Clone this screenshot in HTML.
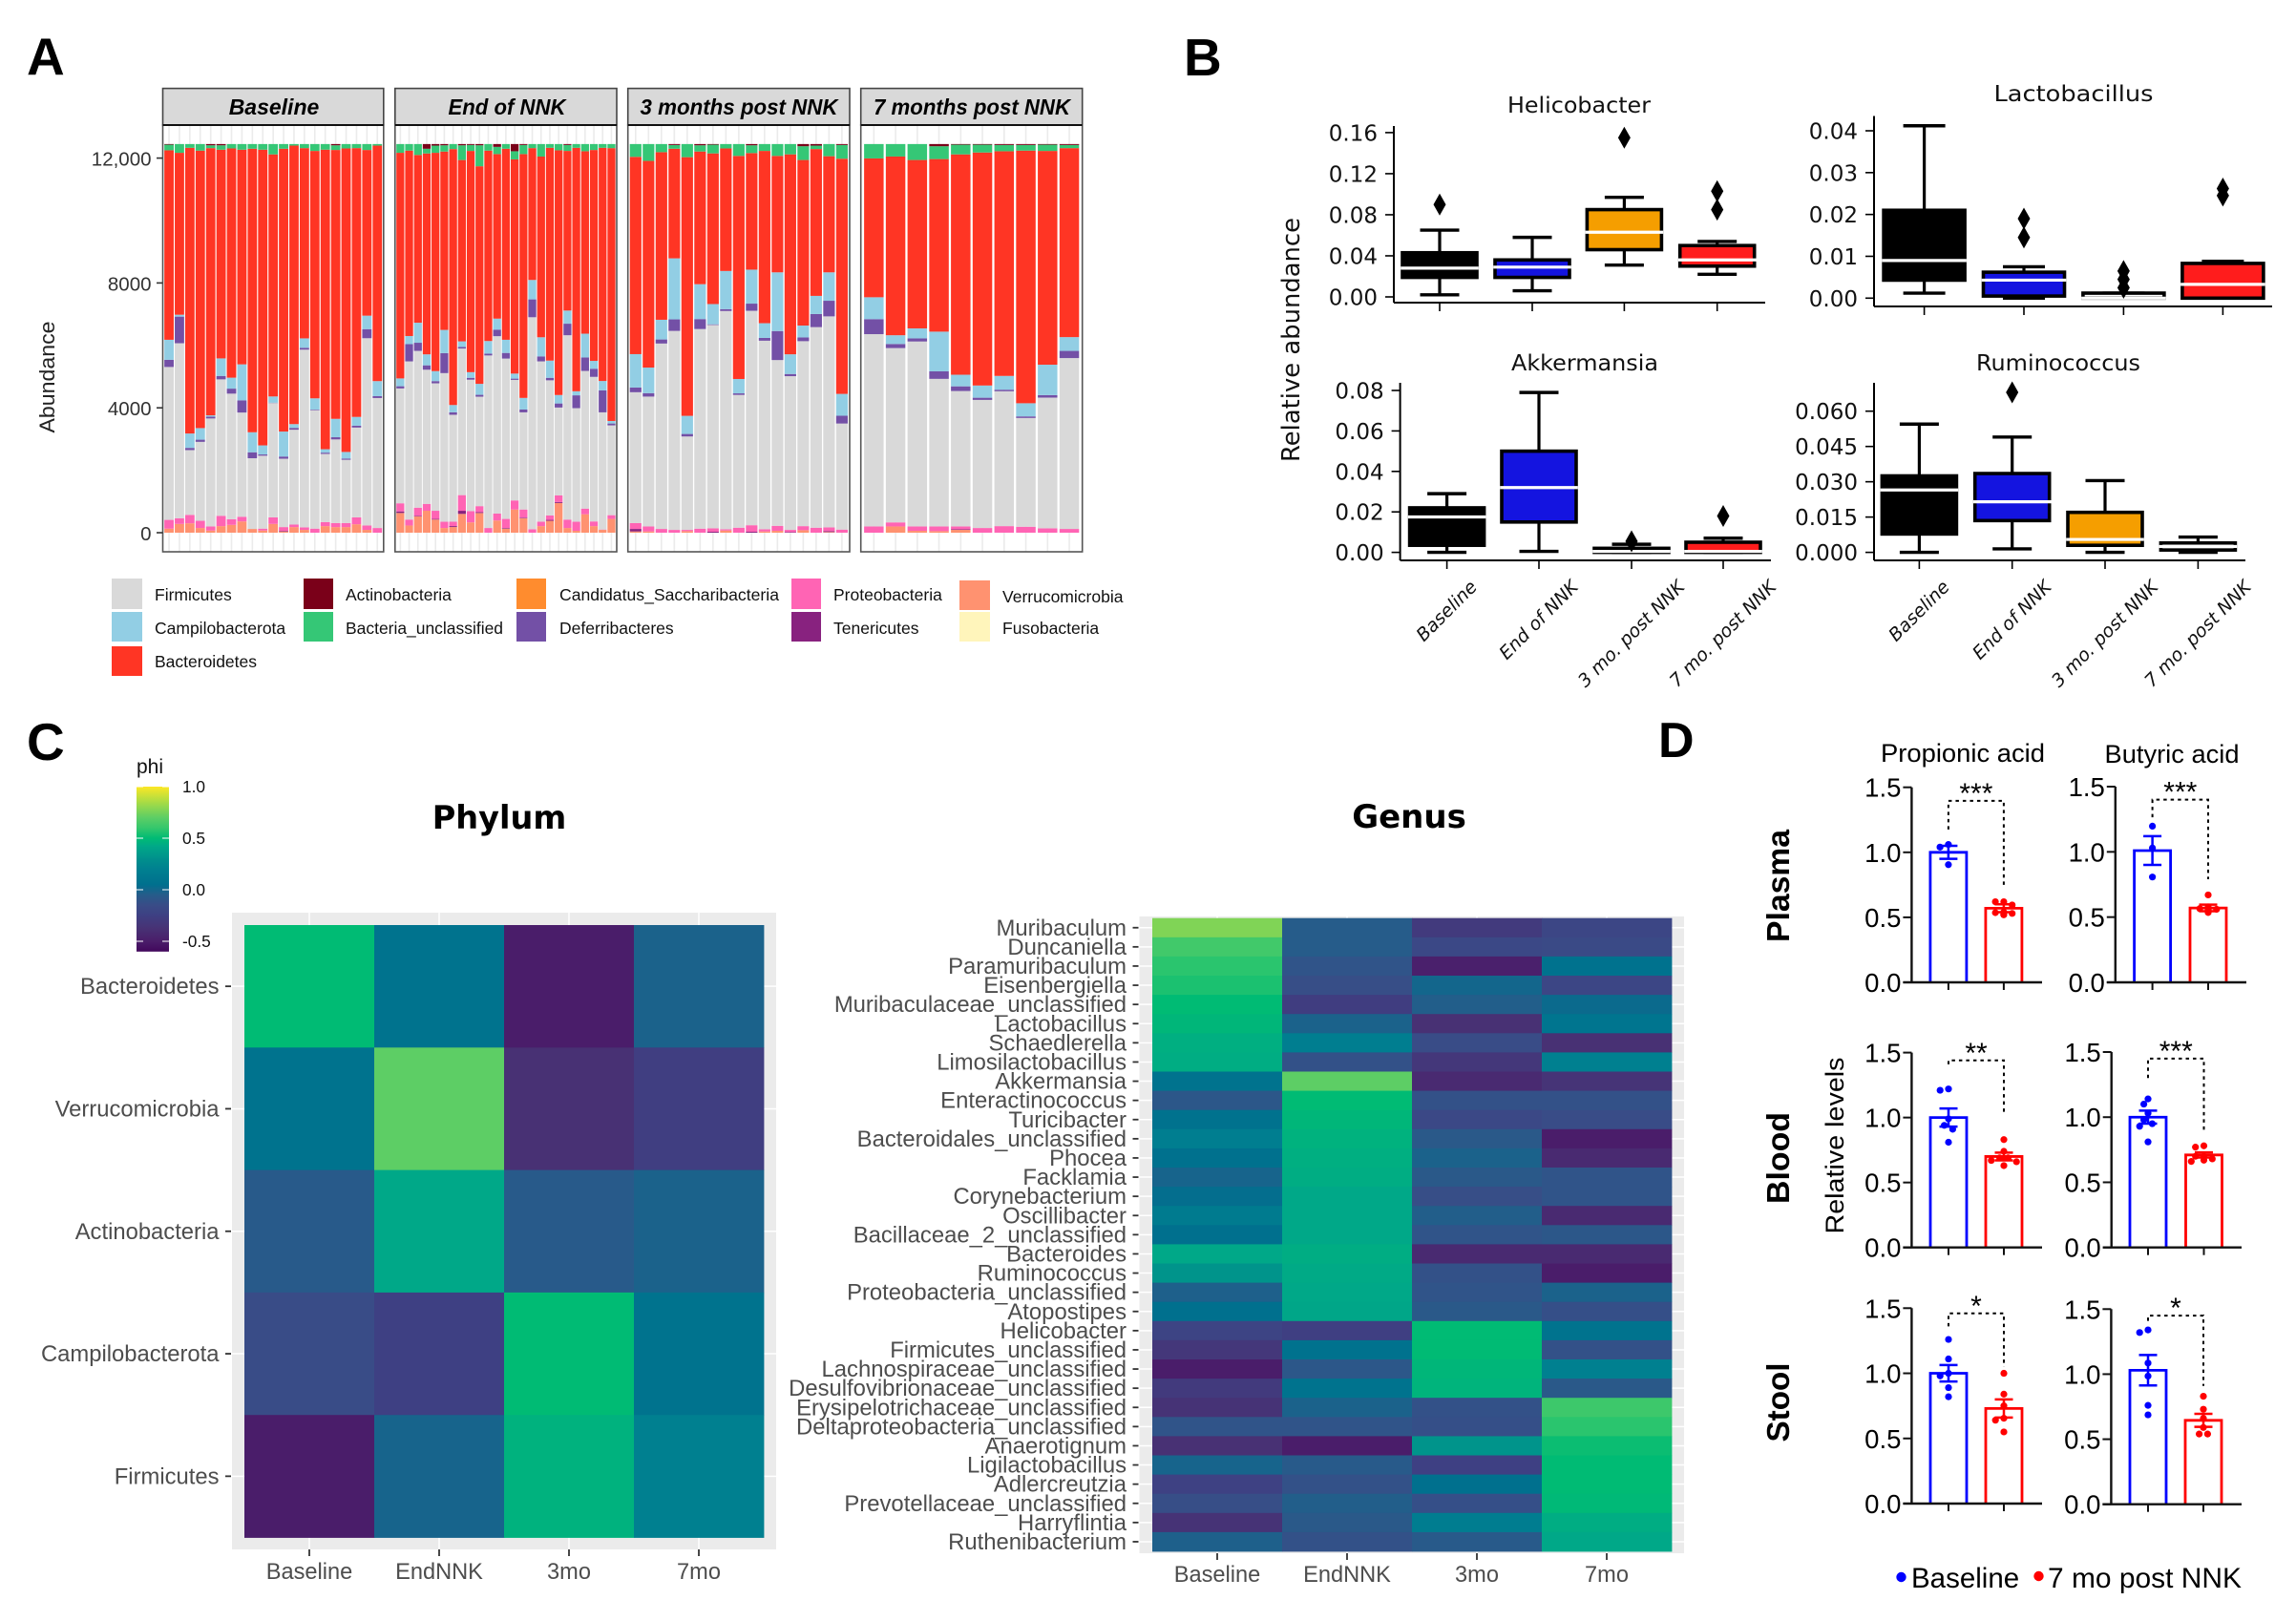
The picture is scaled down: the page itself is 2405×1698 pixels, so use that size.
<!DOCTYPE html>
<html lang="en">
<head>
<meta charset="utf-8">
<title>Microbiome figure</title>
<style>
html,body{margin:0;padding:0;background:#fff;}
svg{display:block;}
text{font-family:"Liberation Sans",sans-serif;}
.dj,.dj text{font-family:"DejaVu Sans",sans-serif;}
.lg{font-size:17.5px;fill:#111;}
</style>
</head>
<body>
<svg id="figure" xmlns="http://www.w3.org/2000/svg" width="2405" height="1698" viewBox="0 0 2405 1698">
<rect x="0" y="0" width="2405" height="1698" fill="#ffffff"/>

<text x="28" y="78" font-size="55" font-weight="bold" fill="#000">A</text>
<text x="1240" y="79" font-size="55" font-weight="bold" fill="#000">B</text>
<text x="28" y="796" font-size="55" font-weight="bold" fill="#000">C</text>
<text x="1746" y="797" font-size="52" font-weight="bold" fill="#000" transform="translate(-9,-4)">D</text>

<!-- Panel A -->
<g id="panelA">
  <text transform="translate(57,395) rotate(-90)" text-anchor="middle" font-size="22" fill="#222" textLength="117" lengthAdjust="spacingAndGlyphs">Abundance</text>
  <g id="facetsA"></g>
  <text x="287" y="120" text-anchor="middle" font-size="23" font-weight="bold" font-style="italic" fill="#000">Baseline</text>
  <text x="531" y="120" text-anchor="middle" font-size="23" font-weight="bold" font-style="italic" fill="#000" textLength="123" lengthAdjust="spacingAndGlyphs">End of NNK</text>
  <text x="774" y="120" text-anchor="middle" font-size="23" font-weight="bold" font-style="italic" fill="#000" textLength="207" lengthAdjust="spacingAndGlyphs">3 months post NNK</text>
  <text x="1018" y="120" text-anchor="middle" font-size="23" font-weight="bold" font-style="italic" fill="#000" textLength="206" lengthAdjust="spacingAndGlyphs">7 months post NNK</text>
  <g id="legendA">
    <rect x="117" y="606" width="32" height="32" fill="#D9D9D9"/>
    <text class="lg" x="162" y="629">Firmicutes</text>
    <rect x="117" y="641" width="32" height="31" fill="#92CEE4"/>
    <text class="lg" x="162" y="664">Campilobacterota</text>
    <rect x="117" y="677" width="32" height="31" fill="#FF3524"/>
    <text class="lg" x="162" y="699">Bacteroidetes</text>
    <rect x="318" y="606" width="31" height="32" fill="#7A0019"/>
    <text class="lg" x="362" y="629">Actinobacteria</text>
    <rect x="318" y="641" width="31" height="31" fill="#35C776"/>
    <text class="lg" x="362" y="664" textLength="165" lengthAdjust="spacingAndGlyphs">Bacteria_unclassified</text>
    <rect x="541" y="606" width="31" height="32" fill="#FF8C2E"/>
    <text class="lg" x="586" y="629" textLength="230" lengthAdjust="spacingAndGlyphs">Candidatus_Saccharibacteria</text>
    <rect x="541" y="641" width="31" height="31" fill="#7350A6"/>
    <text class="lg" x="586" y="664">Deferribacteres</text>
    <rect x="829" y="606" width="31" height="32" fill="#FF64B4"/>
    <text class="lg" x="873" y="629">Proteobacteria</text>
    <rect x="829" y="641" width="31" height="31" fill="#88227F"/>
    <text class="lg" x="873" y="664">Tenericutes</text>
    <rect x="1005" y="608" width="32" height="31" fill="#FF9270"/>
    <text class="lg" x="1050" y="631">Verrucomicrobia</text>
    <rect x="1005" y="641" width="32" height="31" fill="#FFF5BB"/>
    <text class="lg" x="1050" y="664">Fusobacteria</text>
  </g>
</g>

<!-- Panel B -->
<g id="panelB" class="dj">
  <text transform="translate(1361,356) rotate(-90)" text-anchor="middle" font-size="26" fill="#111" textLength="256" lengthAdjust="spacingAndGlyphs">Relative abundance</text>
  <text x="1654" y="118" text-anchor="middle" font-size="23" fill="#111" textLength="150" lengthAdjust="spacingAndGlyphs">Helicobacter</text>
  <text x="2172" y="106" text-anchor="middle" font-size="23" fill="#111" textLength="167" lengthAdjust="spacingAndGlyphs">Lactobacillus</text>
  <text x="1660" y="388" text-anchor="middle" font-size="23" fill="#111" textLength="154" lengthAdjust="spacingAndGlyphs">Akkermansia</text>
  <text x="2156" y="388" text-anchor="middle" font-size="23" fill="#111" textLength="172" lengthAdjust="spacingAndGlyphs">Ruminococcus</text>
</g>

<!-- Panel C -->
<g id="panelC">
  <text x="143" y="810" font-size="21" fill="#111">phi</text>
  <g id="colorbar"></g>
  <text class="dj" x="523" y="868" text-anchor="middle" font-size="33.5" font-weight="bold" fill="#000" style="font-family:'DejaVu Sans',sans-serif">Phylum</text>
  <text class="dj" x="1483" y="867" text-anchor="middle" font-size="34" font-weight="bold" fill="#000" style="font-family:'DejaVu Sans',sans-serif" transform="translate(-7,0)">Genus</text>
  <g id="phylumMap"></g>
  <g id="genusMap"></g>
</g>

<!-- Panel D -->
<g id="panelD">
  <text x="2056" y="798" text-anchor="middle" font-size="27" fill="#000" textLength="172" lengthAdjust="spacingAndGlyphs">Propionic acid</text>
  <text x="2275" y="799" text-anchor="middle" font-size="27" fill="#000" textLength="141" lengthAdjust="spacingAndGlyphs">Butyric acid</text>
  <text transform="translate(1874,928) rotate(-90)" text-anchor="middle" font-size="33" font-weight="bold" fill="#000" textLength="118" lengthAdjust="spacingAndGlyphs">Plasma</text>
  <text transform="translate(1874,1213) rotate(-90)" text-anchor="middle" font-size="33" font-weight="bold" fill="#000" textLength="96" lengthAdjust="spacingAndGlyphs">Blood</text>
  <text transform="translate(1874,1469) rotate(-90)" text-anchor="middle" font-size="33" font-weight="bold" fill="#000" textLength="83" lengthAdjust="spacingAndGlyphs">Stool</text>
  <text transform="translate(1931,1200) rotate(-90)" text-anchor="middle" font-size="27" fill="#000" textLength="185" lengthAdjust="spacingAndGlyphs">Relative levels</text>
  <circle cx="1991.5" cy="1652" r="5.2" fill="#0000ff"/>
  <text x="2002" y="1663" font-size="29.5" fill="#000">Baseline</text>
  <circle cx="2135.5" cy="1651" r="5.2" fill="#ff0000"/>
  <text x="2145" y="1663" font-size="29.5" fill="#000" textLength="203" lengthAdjust="spacingAndGlyphs">7 mo post NNK</text>
</g>
</svg>

<script>
/* ---------- Panel A data: abundance per sample, stacked bottom to top ---------- */
const abundanceTicks = [0, 4000, 8000, 12000];
const abundanceTickLabels = ["0", "4000", "8000", "12,000"];
const stackSeriesNames = ["verrucomicrobia","tenericutes","proteobacteria","firmicutes","deferribacteres","campilobacterota","bacteroidetes","bacteria-unclassified","actinobacteria"];
const stackSeriesColors = ["#FF9270","#88227F","#FF64B4","#D9D9D9","#7350A6","#92CEE4","#FF3524","#35C776","#7A0019"];
const rarefactionDepth = 12450;

const baselineVerrucomicrobia = [130,280,300,150,70,210,250,360,120,70,280,40,180,90,0,210,180,180,270,90,0];
const baselineTenericutes = [0,0,0,0,0,0,0,0,0,0,0,20,0,0,0,0,0,0,0,0,0];
const baselineProteobacteria = [280,180,270,230,130,330,180,150,0,60,210,120,80,80,130,130,130,130,220,140,150];
const baselineFirmicutes = [4890,5590,2070,2520,3450,4360,4010,3330,2260,2330,3650,2190,3030,5670,3780,2180,2680,2020,2870,5980,4150];
const baselineDeferribacteres = [230,850,70,70,60,110,160,390,190,40,10,70,60,60,20,40,70,40,60,290,60];
const baselineCampilobacterota = [640,60,460,370,40,560,350,1150,640,290,200,800,120,300,360,110,590,210,280,430,480];
const baselineBacteroidetes = [6060,5170,9130,8860,8540,6670,7320,6860,9060,9450,7730,9060,8900,6070,7900,9580,8620,9700,8590,5290,7520];
const baselineUnclassified = [180,280,120,210,90,140,140,180,150,180,330,150,50,130,220,180,150,140,130,190,50];
const baselineActinobacteria = [20,0,0,0,40,40,0,0,0,0,0,0,0,0,0,0,40,0,0,0,0];

const endVerrucomicrobia = [630,230,520,700,420,150,180,600,330,630,0,390,130,740,460,0,210,380,950,150,60,590,210,90,440];
const endTenericutes = [50,0,20,0,20,0,30,100,0,30,0,0,20,0,20,0,0,30,30,0,0,0,0,0,0];
const endProteobacteria = [260,190,260,220,260,200,140,500,360,190,150,220,290,290,260,110,140,140,210,270,290,180,150,10,120];
const endFirmicutes = [3670,5050,5010,4280,4070,4750,3400,4680,4200,3500,5500,5660,5120,3850,3100,6770,5120,4320,2810,5900,3630,4400,4620,3740,2870];
const endDeferribacteres = [70,550,260,140,70,640,80,50,60,60,60,210,180,40,90,570,160,80,130,370,410,430,260,700,60];
const endCampilobacterota = [250,260,640,350,320,740,230,180,180,350,400,350,420,160,370,620,610,550,270,420,130,760,250,300,80];
const endBacteroidetes = [7210,5920,5360,6410,6970,5700,8140,5790,7070,6960,6070,5250,6100,6840,7780,4210,5770,6800,7820,5110,7780,5830,6740,7440,8720];
const endUnclassified = [280,210,350,150,230,200,160,470,190,670,210,230,150,260,290,130,400,120,200,190,120,230,190,120,130];
const endActinobacteria = [0,0,0,150,50,40,0,40,30,40,0,90,0,230,30,0,0,0,0,30,0,0,0,0,0];

const threeMoVerrucomicrobia = [40,40,0,0,50,0,0,70,0,0,40,60,0,80,0,20,0];
const threeMoTenericutes = [80,0,0,0,0,0,30,0,0,30,0,0,20,0,0,30,0];
const threeMoProteobacteria = [190,160,120,90,40,130,110,40,160,210,70,160,70,130,160,120,100];
const threeMoFirmicutes = [4190,4160,5930,6390,2990,6410,6520,6980,4250,6880,6030,5310,4920,5920,6420,6760,3400];
const threeMoDeferribacteres = [150,110,130,370,80,320,20,60,50,230,90,930,70,120,420,500,250];
const threeMoCampilobacterota = [1070,820,630,1960,580,1120,650,1220,460,1090,470,1880,630,380,580,910,700];
const threeMoBacteroidetes = [6320,6620,5360,3520,8280,4260,4830,3920,7140,3740,5510,3730,6400,5300,4700,3720,7540];
const threeMoUnclassified = [410,540,260,120,420,200,280,140,380,250,220,380,330,440,110,390,440];
const threeMoActinobacteria = [0,0,0,30,0,40,20,0,0,40,0,0,0,70,50,0,30];

const sevenMoVerrucomicrobia = [0,200,60,50,90,0,0,0,0,0];
const sevenMoTenericutes = [0,0,0,0,20,0,0,0,0,0];
const sevenMoProteobacteria = [200,130,140,150,90,150,210,190,140,120];
const sevenMoFirmicutes = [6150,5580,5920,4720,4320,4090,4310,3470,4170,5460];
const sevenMoDeferribacteres = [480,130,100,240,150,70,50,50,80,230];
const sevenMoCampilobacterota = [700,280,320,1270,370,390,440,420,970,440];
const sevenMoBacteroidetes = [4440,5720,5390,5520,7030,7440,7180,8060,6820,6040];
const sevenMoUnclassified = [460,400,510,410,310,250,200,180,200,100];
const sevenMoActinobacteria = [0,0,0,70,20,20,30,30,20,30];

/* ---------- Panel B data: box statistics per group ---------- */
const boxGroupLabels = ["Baseline","End of NNK","3 mo. post NNK","7 mo. post NNK"];
const boxGroupColors = ["#000000","#1414E0","#F59E00","#FF1C1C"];

const helicobacterTicks = [0,0.04,0.08,0.12,0.16];
const helicobacterTickLabels = ["0.00","0.04","0.08","0.12","0.16"];
const helicobacterLow = [0.002,0.006,0.031,0.022];
const helicobacterQ1 = [0.019,0.019,0.046,0.030];
const helicobacterMedian = [0.028,0.029,0.063,0.036];
const helicobacterQ3 = [0.043,0.036,0.085,0.050];
const helicobacterHigh = [0.065,0.058,0.097,0.054];
const helicobacterOutliers = [[0.09],[],[0.155],[0.085,0.103]];

const lactobacillusTicks = [0,0.01,0.02,0.03,0.04];
const lactobacillusTickLabels = ["0.00","0.01","0.02","0.03","0.04"];
const lactobacillusLow = [0.0012,0,0,0];
const lactobacillusQ1 = [0.0043,0.0005,0,0];
const lactobacillusMedian = [0.009,0.0043,0,0.0033];
const lactobacillusQ3 = [0.021,0.0062,0.0012,0.0083];
const lactobacillusHigh = [0.0412,0.0075,0.0012,0.0088];
const lactobacillusOutliers = [[],[0.0145,0.019],[0.0025,0.0045,0.0065],[0.0245,0.0262]];

const akkermansiaTicks = [0,0.02,0.04,0.06,0.08];
const akkermansiaTickLabels = ["0.00","0.02","0.04","0.06","0.08"];
const akkermansiaLow = [0,0.0005,0,0];
const akkermansiaQ1 = [0.0035,0.015,0,0];
const akkermansiaMedian = [0.0175,0.032,0.0005,0.0005];
const akkermansiaQ3 = [0.022,0.05,0.002,0.005];
const akkermansiaHigh = [0.029,0.079,0.004,0.007];
const akkermansiaOutliers = [[],[],[0.0055],[0.018]];

const ruminococcusTicks = [0,0.015,0.03,0.045,0.06];
const ruminococcusTickLabels = ["0.000","0.015","0.030","0.045","0.060"];
const ruminococcusLow = [0,0.0015,0,0];
const ruminococcusQ1 = [0.0078,0.0135,0.003,0.001];
const ruminococcusMedian = [0.0265,0.0215,0.0055,0.0025];
const ruminococcusQ3 = [0.0325,0.0335,0.017,0.004];
const ruminococcusHigh = [0.0545,0.049,0.0305,0.0065];
const ruminococcusOutliers = [[],[0.068],[],[]];

/* ---------- Panel C data: phi values ---------- */
const phiScaleValues = [-0.6,-0.5,-0.38,-0.25,-0.15,-0.05,0.05,0.2,0.3,0.42,0.5,0.6,0.7,0.8,0.9,1.0];
const phiScaleColors = ["#42085C","#4A1D6A","#483174","#3E4083","#394C87","#265C8A","#00708E","#008090","#00908C","#00A888","#00BB74","#35C76C","#5DCE65","#8FD74F","#C4E03A","#FDE725"];
const phiTicks = [-0.5,0,0.5,1];
const phiTickLabels = ["-0.5","0.0","0.5","1.0"];
const heatmapColumns = ["Baseline","EndNNK","3mo","7mo"];

const phylumRows = ["Bacteroidetes","Verrucomicrobia","Actinobacteria","Campilobacterota","Firmicutes"];
const phylumBaseline = [0.5,0.08,-0.06,-0.15,-0.5];
const phylumEndNNK = [0.08,0.7,0.42,-0.25,-0.01];
const phylum3mo = [-0.5,-0.38,-0.06,0.5,0.46];
const phylum7mo = [-0.02,-0.27,-0.02,0.08,0.2];

const genusRows = ["Muribaculum","Duncaniella","Paramuribaculum","Eisenbergiella","Muribaculaceae_unclassified","Lactobacillus","Schaedlerella","Limosilactobacillus","Akkermansia","Enteractinococcus","Turicibacter","Bacteroidales_unclassified","Phocea","Facklamia","Corynebacterium","Oscillibacter","Bacillaceae_2_unclassified","Bacteroides","Ruminococcus","Proteobacteria_unclassified","Atopostipes","Helicobacter","Firmicutes_unclassified","Lachnospiraceae_unclassified","Desulfovibrionaceae_unclassified","Erysipelotrichaceae_unclassified","Deltaproteobacteria_unclassified","Anaerotignum","Ligilactobacillus","Adlercreutzia","Prevotellaceae_unclassified","Harryflintia","Ruthenibacterium"];
const genusBaseline = [0.77,0.63,0.58,0.55,0.5,0.48,0.45,0.44,0.08,-0.08,0.07,0.18,0.06,-0.01,0.04,0.15,0.05,0.42,0.32,-0.03,0.05,-0.22,-0.33,-0.5,-0.3,-0.36,-0.1,-0.38,-0.01,-0.24,-0.14,-0.36,-0.03];
const genusEndNNK = [-0.05,-0.05,-0.1,-0.14,-0.28,-0.02,0.18,-0.12,0.7,0.5,0.48,0.46,0.45,0.44,0.42,0.42,0.42,0.44,0.43,0.42,0.41,-0.26,0.07,-0.08,0.08,-0.02,-0.1,-0.5,-0.06,-0.12,-0.04,-0.07,-0.12];
const genus3mo = [-0.3,-0.18,-0.48,0.0,-0.04,-0.38,-0.15,-0.33,-0.42,-0.12,-0.18,-0.07,-0.02,-0.07,-0.14,-0.04,-0.1,-0.42,-0.12,-0.1,-0.07,0.5,0.5,0.48,0.47,-0.12,-0.13,0.32,-0.25,0.05,-0.13,0.17,-0.06];
const genus7mo = [-0.2,-0.17,0.07,-0.2,0.02,0.1,-0.38,0.2,-0.35,-0.12,-0.15,-0.5,-0.42,-0.1,-0.1,-0.42,-0.08,-0.42,-0.5,-0.02,-0.13,0.08,-0.12,0.2,-0.07,0.62,0.58,0.52,0.5,0.5,0.49,0.44,0.42];

/* ---------- Panel D data ---------- */
const levelTicks = [0,0.5,1,1.5];
const levelTickLabels = ["0.0","0.5","1.0","1.5"];

const plasmaPropionicMeans = [1.0,0.57];
const plasmaPropionicSem = [0.05,0.03];
const plasmaPropionicBaselinePoints = [1.06,1.04,0.905];
const plasmaPropionicPostPoints = [0.62,0.62,0.595,0.54,0.536,0.53,0.52,0.52];
const plasmaPropionicBracket = [1.396,1.176,0.746];

const plasmaButyricMeans = [1.01,0.57];
const plasmaButyricSem = [0.11,0.025];
const plasmaButyricBaselinePoints = [1.197,1.03,0.807];
const plasmaButyricPostPoints = [0.67,0.578,0.565,0.56,0.555,0.535];
const plasmaButyricBracket = [1.4,1.265,0.79];

const bloodPropionicMeans = [1.0,0.7];
const bloodPropionicSem = [0.07,0.03];
const bloodPropionicBaselinePoints = [1.22,1.21,0.99,0.94,0.91,0.81];
const bloodPropionicPostPoints = [0.83,0.74,0.69,0.69,0.67,0.66,0.63];
const bloodPropionicBracket = [1.44,1.41,1.04];

const bloodButyricMeans = [1.0,0.71];
const bloodButyricSem = [0.05,0.02];
const bloodButyricBaselinePoints = [1.14,1.1,1.03,0.98,0.95,0.93,0.81];
const bloodButyricPostPoints = [0.78,0.77,0.7,0.7,0.68,0.67,0.66];
const bloodButyricBracket = [1.45,1.3,0.88];

const stoolPropionicMeans = [1.0,0.73];
const stoolPropionicSem = [0.063,0.07];
const stoolPropionicBaselinePoints = [1.26,1.11,1.0,0.98,0.89,0.82];
const stoolPropionicPostPoints = [1.0,0.84,0.75,0.655,0.64,0.55];
const stoolPropionicBracket = [1.46,1.36,1.05];

const stoolButyricMeans = [1.03,0.645];
const stoolButyricSem = [0.117,0.05];
const stoolButyricBaselinePoints = [1.34,1.32,1.085,0.985,0.76,0.687];
const stoolButyricPostPoints = [0.83,0.73,0.66,0.59,0.54,0.54];
const stoolButyricBracket = [1.45,1.41,0.91];

/* ---------- helpers ---------- */
const SVGNS = "http://www.w3.org/2000/svg";
function add(parent, tag, attrs, text) {
  const el = document.createElementNS(SVGNS, tag);
  for (const k in attrs) el.setAttribute(k, attrs[k]);
  if (text !== undefined) el.textContent = text;
  parent.appendChild(el);
  return el;
}
function slug(s) { return String(s).toLowerCase().replace(/[^a-z0-9]+/g, '-'); }

/* ---------- Panel A ---------- */
const facetsA = document.getElementById('facetsA');
const yA = v => 558 - v * 130.8 / 4000;
const facetLayouts = [
  { name: 'baseline', x0: 170.5, x1: 401.8, series: [baselineVerrucomicrobia, baselineTenericutes, baselineProteobacteria, baselineFirmicutes, baselineDeferribacteres, baselineCampilobacterota, baselineBacteroidetes, baselineUnclassified, baselineActinobacteria] },
  { name: 'end-of-nnk', x0: 413.8, x1: 646, series: [endVerrucomicrobia, endTenericutes, endProteobacteria, endFirmicutes, endDeferribacteres, endCampilobacterota, endBacteroidetes, endUnclassified, endActinobacteria] },
  { name: '3-months', x0: 657.7, x1: 890, series: [threeMoVerrucomicrobia, threeMoTenericutes, threeMoProteobacteria, threeMoFirmicutes, threeMoDeferribacteres, threeMoCampilobacterota, threeMoBacteroidetes, threeMoUnclassified, threeMoActinobacteria] },
  { name: '7-months', x0: 901.7, x1: 1133.7, series: [sevenMoVerrucomicrobia, sevenMoTenericutes, sevenMoProteobacteria, sevenMoFirmicutes, sevenMoDeferribacteres, sevenMoCampilobacterota, sevenMoBacteroidetes, sevenMoUnclassified, sevenMoActinobacteria] }
];
facetLayouts.forEach(f => {
  const g = add(facetsA, 'g', {});
  
  
  const strip = add(g, 'rect', { x: f.x0, y: 92.6, width: f.x1 - f.x0, height: 38.3, fill: '#D9D9D9', stroke: '#444', 'stroke-width': 1.6 });
  
  
  const n = f.series[0].length;
  const unit = (f.x1 - f.x0) / (n + 0.2);
  const xA = i => f.x0 + (i + 0.6) * unit;
  for (let i = 0; i < n; i++) {
    const grid = add(g, 'line', { x1: xA(i), x2: xA(i), y1: 131, y2: 578, stroke: '#EBEBEB', 'stroke-width': 1.6 });
    
    
  }
  for (let i = 0; i < n; i++) {
    const total = f.series.reduce((sum, arr) => sum + arr[i], 0);
    const norm = total > 0 ? rarefactionDepth / total : 1;
    let cum = 0;
    f.series.forEach((arr, s) => {
      const v = arr[i] * norm;
      if (v <= 0) { return; }
      const top = yA(cum + v);
      const bottom = yA(cum);
      const bar = add(g, 'rect', { x: xA(i) - unit * 0.45, y: top, width: unit * 0.9, height: bottom - top, fill: stackSeriesColors[s] });
      
      
      cum += v;
    });
  }
  const frame = add(g, 'rect', { x: f.x0, y: 131, width: f.x1 - f.x0, height: 447, fill: 'none', stroke: '#555', 'stroke-width': 1.6 });
  
  
  const stripLine = add(g, 'line', { x1: f.x0, x2: f.x1, y1: 131, y2: 131, stroke: '#111', 'stroke-width': 2 });
  
  
});
abundanceTicks.forEach((v, i) => {
  const tick = add(facetsA, 'line', { x1: 164, x2: 170.5, y1: yA(v), y2: yA(v), stroke: '#333', 'stroke-width': 1.6 });
  
  
  const label = add(facetsA, 'text', { x: 158.5, y: yA(v) + 8, 'text-anchor': 'end', 'font-size': 20.5, fill: '#333' }, abundanceTickLabels[i]);
  
  
});

/* ---------- Panel B ---------- */
const panelB = document.getElementById('panelB');
const boxPlots = [
  { name: 'helicobacter', axisX: 1460, axisY: 317, axisTop: 132, axisRight: 1849, y0: 311, yTop: 138.9, top: 0.16, centers: [1508,1605,1701.4,1798.7], boxW: 78, capW: 41, ticks: helicobacterTicks, labels: helicobacterTickLabels, low: helicobacterLow, q1: helicobacterQ1, med: helicobacterMedian, q3: helicobacterQ3, high: helicobacterHigh, out: helicobacterOutliers, showX: false },
  { name: 'lactobacillus', axisX: 1963, axisY: 321, axisTop: 121.5, axisRight: 2380, y0: 312.3, yTop: 137, top: 0.04, centers: [2015.6,2120,2224.4,2328.4], boxW: 85, capW: 44, ticks: lactobacillusTicks, labels: lactobacillusTickLabels, low: lactobacillusLow, q1: lactobacillusQ1, med: lactobacillusMedian, q3: lactobacillusQ3, high: lactobacillusHigh, out: lactobacillusOutliers, showX: false },
  { name: 'akkermansia', axisX: 1466.6, axisY: 587, axisTop: 401, axisRight: 1855, y0: 578.6, yTop: 409, top: 0.08, centers: [1515.6,1612,1709,1805], boxW: 78, capW: 41, ticks: akkermansiaTicks, labels: akkermansiaTickLabels, low: akkermansiaLow, q1: akkermansiaQ1, med: akkermansiaMedian, q3: akkermansiaQ3, high: akkermansiaHigh, out: akkermansiaOutliers, showX: true },
  { name: 'ruminococcus', axisX: 1963, axisY: 587, axisTop: 401, axisRight: 2352, y0: 578.6, yTop: 430.7, top: 0.06, centers: [2010.4,2107.7,2205,2302.4], boxW: 78, capW: 41, ticks: ruminococcusTicks, labels: ruminococcusTickLabels, low: ruminococcusLow, q1: ruminococcusQ1, med: ruminococcusMedian, q3: ruminococcusQ3, high: ruminococcusHigh, out: ruminococcusOutliers, showX: true }
];
boxPlots.forEach(p => {
  const g = add(panelB, 'g', {});
  
  
  const y = v => p.y0 - v * (p.y0 - p.yTop) / p.top;
  const axisY = add(g, 'line', { x1: p.axisX, x2: p.axisX, y1: p.axisTop, y2: p.axisY, stroke: '#000', 'stroke-width': 2 });
  
  
  const axisX = add(g, 'line', { x1: p.axisX, x2: p.axisRight, y1: p.axisY, y2: p.axisY, stroke: '#000', 'stroke-width': 2 });
  
  
  p.ticks.forEach((v, i) => {
    const t = add(g, 'line', { x1: p.axisX - 9, x2: p.axisX, y1: y(v), y2: y(v), stroke: '#000', 'stroke-width': 1.6 });
    
    
    const l = add(g, 'text', { x: p.axisX - 17, y: y(v) + 8.5, 'text-anchor': 'end', 'font-size': 23, fill: '#111' }, p.labels[i]);
    
    
  });
  p.centers.forEach((cx, i) => {
    const t = add(g, 'line', { x1: cx, x2: cx, y1: p.axisY, y2: p.axisY + 9, stroke: '#000', 'stroke-width': 1.6 });
    
    
    const whisker = add(g, 'line', { x1: cx, x2: cx, y1: y(p.low[i]), y2: y(p.high[i]), stroke: '#000', 'stroke-width': 3.2 });
    
    
    [p.low[i], p.high[i]].forEach(c => {
      const cap = add(g, 'line', { x1: cx - p.capW / 2, x2: cx + p.capW / 2, y1: y(c), y2: y(c), stroke: '#000', 'stroke-width': 3.4 });
      
      
    });
    const boxHeight = y(p.q1[i]) - y(p.q3[i]);
    const box = add(g, 'rect', { x: cx - p.boxW / 2, y: y(p.q3[i]), width: p.boxW, height: boxHeight, fill: boxHeight < 8 ? '#ffffff' : boxGroupColors[i], stroke: '#000', 'stroke-width': 3.6 });
    
    
    const med = add(g, 'line', { x1: cx - p.boxW / 2 - 1.8, x2: cx + p.boxW / 2 + 1.8, y1: y(p.med[i]), y2: y(p.med[i]), stroke: '#fff', 'stroke-width': 3.2 });
    
    
    p.out[i].forEach(o => {
      const py = y(o);
      const d = add(g, 'polygon', { points: [cx, py - 11.5, cx + 6.5, py, cx, py + 11.5, cx - 6.5, py].join(' '), fill: '#000' });
      
      
    });
    if (p.showX) {
      const lab = add(g, 'text', { 'text-anchor': 'middle', 'font-size': 19, 'font-style': 'italic', fill: '#111' }, boxGroupLabels[i]);
      
      
      const L = lab.getComputedTextLength();
      const cy = 605 + (L + 19) * 0.707 / 2;
      lab.setAttribute('transform', 'translate(' + cx + ',' + cy + ') rotate(-45)');
      lab.setAttribute('dy', '6');
    }
  });
});

/* ---------- Panel C ---------- */
function phiColor(v) {
  const vs = phiScaleValues, cs = phiScaleColors;
  if (v <= vs[0]) return cs[0];
  for (let i = 1; i < vs.length; i++) {
    if (v <= vs[i]) {
      const t = (v - vs[i - 1]) / (vs[i] - vs[i - 1]);
      const a = parseInt(cs[i - 1].slice(1), 16), b = parseInt(cs[i].slice(1), 16);
      const r = Math.round(((a >> 16) & 255) * (1 - t) + ((b >> 16) & 255) * t);
      const gg = Math.round(((a >> 8) & 255) * (1 - t) + ((b >> 8) & 255) * t);
      const bl = Math.round((a & 255) * (1 - t) + (b & 255) * t);
      return 'rgb(' + r + ',' + gg + ',' + bl + ')';
    }
  }
  return cs[cs.length - 1];
}
const cbar = document.getElementById('colorbar');
const yPhi = v => 932 - v * 108;
const defs = add(cbar, 'defs', {});
const grad = add(defs, 'linearGradient', { id: 'phiGradient', x1: 0, y1: 1, x2: 0, y2: 0 });
phiScaleValues.forEach((v, i) => {
  add(grad, 'stop', { offset: (v + 0.6) / 1.6, 'stop-color': phiScaleColors[i] });
});
const cbarRect = add(cbar, 'rect', { x: 143, y: yPhi(1), width: 34, height: yPhi(-0.6) - yPhi(1), fill: 'url(#phiGradient)' });


phiTicks.forEach((v, i) => {
  const a = add(cbar, 'line', { x1: 143, x2: 150, y1: yPhi(v), y2: yPhi(v), stroke: '#fff', 'stroke-width': 1 });
  
  
  const b = add(cbar, 'line', { x1: 170, x2: 177, y1: yPhi(v), y2: yPhi(v), stroke: '#fff', 'stroke-width': 1 });
  
  
  const l = add(cbar, 'text', { x: 191, y: yPhi(v) + 6, 'font-size': 17.3, fill: '#111' }, phiTickLabels[i]);
  
  
});

function drawHeatmap(root, cfg) {
  const bg = add(root, 'rect', { x: cfg.bgX, y: cfg.bgY, width: cfg.bgW, height: cfg.bgH, fill: '#EBEBEB' });
  
  
  const cw = (cfg.x1 - cfg.x0) / heatmapColumns.length;
  const rh = (cfg.y1 - cfg.y0) / cfg.rows.length;
  const xC = j => cfg.x0 + (j + 0.5) * cw;
  const yR = i => cfg.y0 + (i + 0.5) * rh;
  cfg.rows.forEach((name, i) => {
    const gl = add(root, 'line', { x1: cfg.bgX, x2: cfg.bgX + cfg.bgW, y1: yR(i), y2: yR(i), stroke: '#fff', 'stroke-width': 1.5 });
    
    
  });
  heatmapColumns.forEach((name, j) => {
    const gl = add(root, 'line', { x1: xC(j), x2: xC(j), y1: cfg.bgY, y2: cfg.bgY + cfg.bgH, stroke: '#fff', 'stroke-width': 1.5 });
    
    
  });
  cfg.columns.forEach((col, j) => {
    col.forEach((v, i) => {
      const c = add(root, 'rect', { x: cfg.x0 + j * cw, y: cfg.y0 + i * rh, width: cw + 0.4, height: rh + 0.4, fill: phiColor(v) });
      
      
    });
  });
  cfg.rows.forEach((name, i) => {
    const t = add(root, 'line', { x1: cfg.bgX - 7, x2: cfg.bgX - 1, y1: yR(i), y2: yR(i), stroke: '#333', 'stroke-width': 1.8 });
    
    
    const l = add(root, 'text', { x: cfg.bgX - 13.5, y: yR(i) + 8, 'text-anchor': 'end', 'font-size': cfg.rowFont, fill: '#4d4d4d' }, name);
    
    
  });
  heatmapColumns.forEach((name, j) => {
    const t = add(root, 'line', { x1: xC(j), x2: xC(j), y1: cfg.bgY + cfg.bgH, y2: cfg.bgY + cfg.bgH + 7, stroke: '#333', 'stroke-width': 1.8 });
    
    
    const l = add(root, 'text', { x: xC(j), y: cfg.labelY, 'text-anchor': 'middle', 'font-size': 23.6, fill: '#4d4d4d' }, name);
    
    
  });
}
drawHeatmap(document.getElementById('phylumMap'), {
  bgX: 243, bgY: 956, bgW: 570, bgH: 667, x0: 256, x1: 800, y0: 969, y1: 1610.5, labelY: 1654, rowFont: 23.8,
  rows: phylumRows, columns: [phylumBaseline, phylumEndNNK, phylum3mo, phylum7mo]
});
drawHeatmap(document.getElementById('genusMap'), {
  bgX: 1193.5, bgY: 960, bgW: 570.5, bgH: 667, x0: 1207, x1: 1751, y0: 961.7, y1: 1625, labelY: 1657, rowFont: 23.85,
  rows: genusRows, columns: [genusBaseline, genusEndNNK, genus3mo, genus7mo]
});

/* ---------- Panel D ---------- */
const panelD = document.getElementById('panelD');
const levelPlots = [
  { name: 'plasma-propionic', axisX: 2002.4, y0: 1029, y15: 824.7, c: [2040.9,2098.9], right: 2139, means: plasmaPropionicMeans, sem: plasmaPropionicSem, a: plasmaPropionicBaselinePoints, b: plasmaPropionicPostPoints, br: plasmaPropionicBracket, stars: '***' },
  { name: 'plasma-butyric', axisX: 2215.8, y0: 1029, y15: 824, c: [2254.6,2313], right: 2353, means: plasmaButyricMeans, sem: plasmaButyricSem, a: plasmaButyricBaselinePoints, b: plasmaButyricPostPoints, br: plasmaButyricBracket, stars: '***' },
  { name: 'blood-propionic', axisX: 2002.4, y0: 1306.7, y15: 1102.6, c: [2041,2099], right: 2139, means: bloodPropionicMeans, sem: bloodPropionicSem, a: bloodPropionicBaselinePoints, b: bloodPropionicPostPoints, br: bloodPropionicBracket, stars: '**' },
  { name: 'blood-butyric', axisX: 2211.7, y0: 1306.7, y15: 1102, c: [2250,2308.5], right: 2348, means: bloodButyricMeans, sem: bloodButyricSem, a: bloodButyricBaselinePoints, b: bloodButyricPostPoints, br: bloodButyricBracket, stars: '***' },
  { name: 'stool-propionic', axisX: 2002.4, y0: 1575, y15: 1370.3, c: [2041,2099], right: 2139, means: stoolPropionicMeans, sem: stoolPropionicSem, a: stoolPropionicBaselinePoints, b: stoolPropionicPostPoints, br: stoolPropionicBracket, stars: '*' },
  { name: 'stool-butyric', axisX: 2211.4, y0: 1575.7, y15: 1371.3, c: [2250,2308], right: 2348, means: stoolButyricMeans, sem: stoolButyricSem, a: stoolButyricBaselinePoints, b: stoolButyricPostPoints, br: stoolButyricBracket, stars: '*' }
];
const groupStroke = ['#0000ff', '#ff0000'];
levelPlots.forEach(p => {
  const g = add(panelD, 'g', {});
  
  
  const y = v => p.y0 - v * (p.y0 - p.y15) / 1.5;
  [0, 1].forEach(k => {
    const cx = p.c[k];
    const bar = add(g, 'path', { d: 'M' + (cx - 19) + ' ' + y(0) + 'V' + y(p.means[k]) + 'H' + (cx + 19) + 'V' + y(0), fill: 'none', stroke: groupStroke[k], 'stroke-width': 2.8 });
    
    
    const hi = p.means[k] + p.sem[k];
    const lo = p.means[k] - p.sem[k];
    const err = add(g, 'path', { d: 'M' + cx + ' ' + y(lo) + 'V' + y(hi) + 'M' + (cx - 9.5) + ' ' + y(hi) + 'H' + (cx + 9.5) + 'M' + (cx - 9.5) + ' ' + y(lo) + 'H' + (cx + 9.5), fill: 'none', stroke: groupStroke[k], 'stroke-width': 2.5 });
    
    
    const pts = (k === 0 ? p.a : p.b).slice().sort((a, b) => b - a);
    const done = [];
    pts.forEach(v => {
      const py = y(v);
      let chosen = 0;
      const tries = [0, -1, 1, -2, 2, -3, 3];
      for (const t of tries) {
        const px = t * 4.4;
        if (done.every(d => Math.hypot(d.x - px, d.y - py) >= 7)) { chosen = px; break; }
      }
      done.push({ x: chosen, y: py });
      const dot = add(g, 'circle', { cx: cx + chosen, cy: py, r: 3.6, fill: groupStroke[k] });
      
      
    });
  });
  const br = add(g, 'path', { d: 'M' + p.c[0] + ' ' + y(p.br[1]) + 'V' + y(p.br[0]) + 'H' + p.c[1] + 'V' + y(p.br[2]), fill: 'none', stroke: '#000', 'stroke-width': 2, 'stroke-dasharray': '3.5 4' });
  
  
  const st = add(g, 'text', { x: (p.c[0] + p.c[1]) / 2, y: y(p.br[0]) + 2, 'text-anchor': 'middle', 'font-size': 30, fill: '#000' }, p.stars);
  
  
  const ax = add(g, 'path', { d: 'M' + p.axisX + ' ' + y(1.5) + 'V' + y(0) + 'M' + (p.axisX - 9) + ' ' + y(0) + 'H' + p.right, fill: 'none', stroke: '#111', 'stroke-width': 2.4 });
  
  
  levelTicks.forEach((v, i) => {
    const t = add(g, 'line', { x1: p.axisX - 9, x2: p.axisX, y1: y(v), y2: y(v), stroke: '#111', 'stroke-width': 2 });
    
    
    const l = add(g, 'text', { x: p.axisX - 11, y: y(v) + 10, 'text-anchor': 'end', 'font-size': 27.5, fill: '#000' }, levelTickLabels[i]);
    
    
  });
  p.c.forEach(cx => {
    const t = add(g, 'line', { x1: cx, x2: cx, y1: y(0), y2: y(0) + 8, stroke: '#111', 'stroke-width': 2 });
    
    
  });
});
</script>
</body>
</html>
